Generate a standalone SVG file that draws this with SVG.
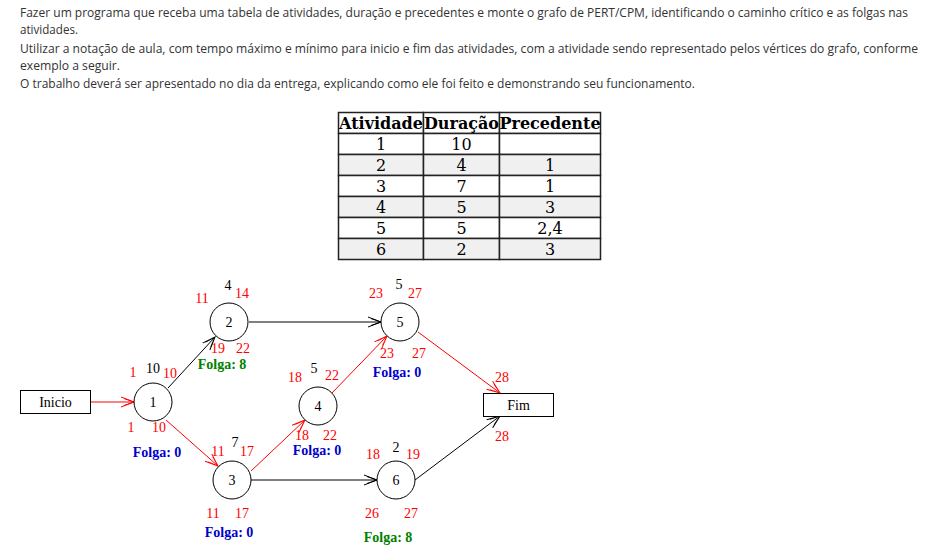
<svg xmlns="http://www.w3.org/2000/svg" width="930" height="551" viewBox="0 0 930 551">
<style>
.intro{font-family:"Open Sans","Liberation Sans",sans-serif;font-size:12px;fill:#333}
.th{font-family:"DejaVu Serif",serif;font-size:16px;font-weight:bold;fill:#000;text-anchor:middle}
.td{font-family:"DejaVu Serif",serif;font-size:16px;fill:#000;text-anchor:middle}
.g{font-family:"Liberation Serif","Times New Roman",serif;font-size:14px;text-anchor:middle}
.r{fill:#ff0000}
.k{fill:#000}
.fb{font-weight:bold;fill:#0000cc}
.fg{font-weight:bold;fill:#008000}
.node{fill:#fff;stroke:#000;stroke-width:1}
.box{fill:#fff;stroke:#000;stroke-width:1}
.er{stroke:#ff0000;stroke-width:1;fill:none;marker-end:url(#ar)}
.ek{stroke:#000;stroke-width:1;fill:none;marker-end:url(#ak)}
.cell{stroke:#222;stroke-width:1.5;fill:#fff}
.cellg{stroke:#222;stroke-width:1.5;fill:#f0f0f0}
</style>
<defs>
<marker id="ar" markerUnits="userSpaceOnUse" markerWidth="14" markerHeight="12" refX="13" refY="6" orient="auto" viewBox="0 0 14 12">
<path d="M0,1 L13,6 L0,11 M3,2.5 L13,6 L3,9.5" fill="none" stroke="#ff0000" stroke-width="1"/>
</marker>
<marker id="ak" markerUnits="userSpaceOnUse" markerWidth="14" markerHeight="12" refX="13" refY="6" orient="auto" viewBox="0 0 14 12">
<path d="M0,1 L13,6 L0,11 M3,2.5 L13,6 L3,9.5" fill="none" stroke="#000" stroke-width="1"/>
</marker>
</defs>
<rect width="930" height="551" fill="#fff"/>
<g id="intro">
<text class="intro" x="20" y="17" textLength="888" lengthAdjust="spacingAndGlyphs">Fazer um programa que receba uma tabela de atividades, duração e precedentes e monte o grafo de PERT/CPM, identificando o caminho crítico e as folgas nas</text>
<text class="intro" x="20" y="34" textLength="58" lengthAdjust="spacingAndGlyphs">atividades.</text>
<text class="intro" x="20" y="53" textLength="898" lengthAdjust="spacingAndGlyphs">Utilizar a notação de aula, com tempo máximo e mínimo para inicio e fim das atividades, com a atividade sendo representado pelos vértices do grafo, conforme</text>
<text class="intro" x="20" y="70" textLength="100" lengthAdjust="spacingAndGlyphs">exemplo a seguir.</text>
<text class="intro" x="20" y="88" textLength="675" lengthAdjust="spacingAndGlyphs">O trabalho deverá ser apresentado no dia da entrega, explicando como ele foi feito e demonstrando seu funcionamento.</text>
</g>
<g id="table">
<rect class="cell" x="338.5" y="112.5" width="85" height="21"/>
<rect class="cell" x="423.5" y="112.5" width="76" height="21"/>
<rect class="cell" x="499.5" y="112.5" width="101" height="21"/>
<rect class="cell" x="338.5" y="133.5" width="85" height="21"/>
<rect class="cell" x="423.5" y="133.5" width="76" height="21"/>
<rect class="cell" x="499.5" y="133.5" width="101" height="21"/>
<rect class="cellg" x="338.5" y="154.5" width="85" height="21"/>
<rect class="cellg" x="423.5" y="154.5" width="76" height="21"/>
<rect class="cellg" x="499.5" y="154.5" width="101" height="21"/>
<rect class="cell" x="338.5" y="175.5" width="85" height="21"/>
<rect class="cell" x="423.5" y="175.5" width="76" height="21"/>
<rect class="cell" x="499.5" y="175.5" width="101" height="21"/>
<rect class="cellg" x="338.5" y="196.5" width="85" height="21"/>
<rect class="cellg" x="423.5" y="196.5" width="76" height="21"/>
<rect class="cellg" x="499.5" y="196.5" width="101" height="21"/>
<rect class="cell" x="338.5" y="217.5" width="85" height="21"/>
<rect class="cell" x="423.5" y="217.5" width="76" height="21"/>
<rect class="cell" x="499.5" y="217.5" width="101" height="21"/>
<rect class="cellg" x="338.5" y="238.5" width="85" height="21"/>
<rect class="cellg" x="423.5" y="238.5" width="76" height="21"/>
<rect class="cellg" x="499.5" y="238.5" width="101" height="21"/>
<text class="th" x="381" y="128.5">Atividade</text>
<text class="th" x="461.5" y="128.5">Duração</text>
<text class="th" x="550" y="128.5">Precedente</text>
<text class="td" x="381" y="149.5">1</text><text class="td" x="461.5" y="149.5">10</text>
<text class="td" x="381" y="170.5">2</text><text class="td" x="461.5" y="170.5">4</text><text class="td" x="550" y="170.5">1</text>
<text class="td" x="381" y="191.5">3</text><text class="td" x="461.5" y="191.5">7</text><text class="td" x="550" y="191.5">1</text>
<text class="td" x="381" y="212.5">4</text><text class="td" x="461.5" y="212.5">5</text><text class="td" x="550" y="212.5">3</text>
<text class="td" x="381" y="233.5">5</text><text class="td" x="461.5" y="233.5">5</text><text class="td" x="550" y="233.5">2,4</text>
<text class="td" x="381" y="254.5">6</text><text class="td" x="461.5" y="254.5">2</text><text class="td" x="550" y="254.5">3</text>
</g>
<g id="connectors">
<line class="er" x1="90" y1="402" x2="134" y2="402"/>
<line class="ek" x1="168" y1="388" x2="215" y2="337"/>
<line class="er" x1="166" y1="420" x2="218" y2="466"/>
<line class="ek" x1="249" y1="322" x2="381" y2="322"/>
<line class="er" x1="251" y1="471" x2="305" y2="420"/>
<line class="ek" x1="251" y1="480" x2="377" y2="480"/>
<line class="er" x1="332" y1="393" x2="387" y2="336"/>
<line class="er" x1="418" y1="332" x2="500" y2="393"/>
<line class="ek" x1="415" y1="480" x2="500" y2="416"/>
</g>
<g id="inicio">
<rect class="box" x="20.5" y="390.5" width="70" height="23"/>
<text class="g k" x="55.5" y="407">Inicio</text>
</g>
<g id="n1">
<circle class="node" cx="153" cy="402" r="19"/>
<text class="g k" x="153" y="407">1</text>
<text class="g r" x="133" y="377">1</text>
<text class="g k" x="153" y="373">10</text>
<text class="g r" x="170" y="378">10</text>
<text class="g r" x="131" y="432">1</text>
<text class="g r" x="159" y="432">10</text>
<text class="g fb" x="157" y="457">Folga: 0</text>
</g>
<g id="n2">
<circle class="node" cx="229" cy="322" r="19"/>
<text class="g k" x="229" y="327">2</text>
<text class="g r" x="202" y="303">11</text>
<text class="g k" x="228" y="290">4</text>
<text class="g r" x="242" y="298">14</text>
<text class="g r" x="218" y="353">19</text>
<text class="g r" x="243" y="353">22</text>
<text class="g fg" x="222" y="369">Folga: 8</text>
</g>
<g id="n3">
<circle class="node" cx="232" cy="480" r="19"/>
<text class="g k" x="232" y="485">3</text>
<text class="g r" x="218" y="456">11</text>
<text class="g k" x="235" y="447">7</text>
<text class="g r" x="247" y="456">17</text>
<text class="g r" x="213" y="518">11</text>
<text class="g r" x="242" y="518">17</text>
<text class="g fb" x="229" y="537">Folga: 0</text>
</g>
<g id="n4">
<circle class="node" cx="318" cy="406" r="19"/>
<text class="g k" x="318" y="411">4</text>
<text class="g r" x="295" y="382">18</text>
<text class="g k" x="314" y="373">5</text>
<text class="g r" x="332" y="380">22</text>
<text class="g r" x="302" y="440">18</text>
<text class="g r" x="330" y="440">22</text>
<text class="g fb" x="317" y="455">Folga: 0</text>
</g>
<g id="n5">
<circle class="node" cx="400" cy="322" r="19"/>
<text class="g k" x="400" y="327">5</text>
<text class="g r" x="376" y="298">23</text>
<text class="g k" x="399" y="289">5</text>
<text class="g r" x="415" y="298">27</text>
<text class="g r" x="387" y="358">23</text>
<text class="g r" x="419" y="358">27</text>
<text class="g fb" x="397" y="377">Folga: 0</text>
</g>
<g id="n6">
<circle class="node" cx="396" cy="480" r="19"/>
<text class="g k" x="396" y="485">6</text>
<text class="g r" x="373" y="459">18</text>
<text class="g k" x="396" y="452">2</text>
<text class="g r" x="413" y="459">19</text>
<text class="g r" x="372" y="518">26</text>
<text class="g r" x="411" y="518">27</text>
<text class="g fg" x="388" y="542">Folga: 8</text>
</g>
<g id="fim">
<rect class="box" x="483.5" y="393.5" width="70" height="23"/>
<text class="g k" x="518.5" y="410">Fim</text>
<text class="g r" x="502" y="382">28</text>
<text class="g r" x="502" y="441">28</text>
</g>
</svg>
